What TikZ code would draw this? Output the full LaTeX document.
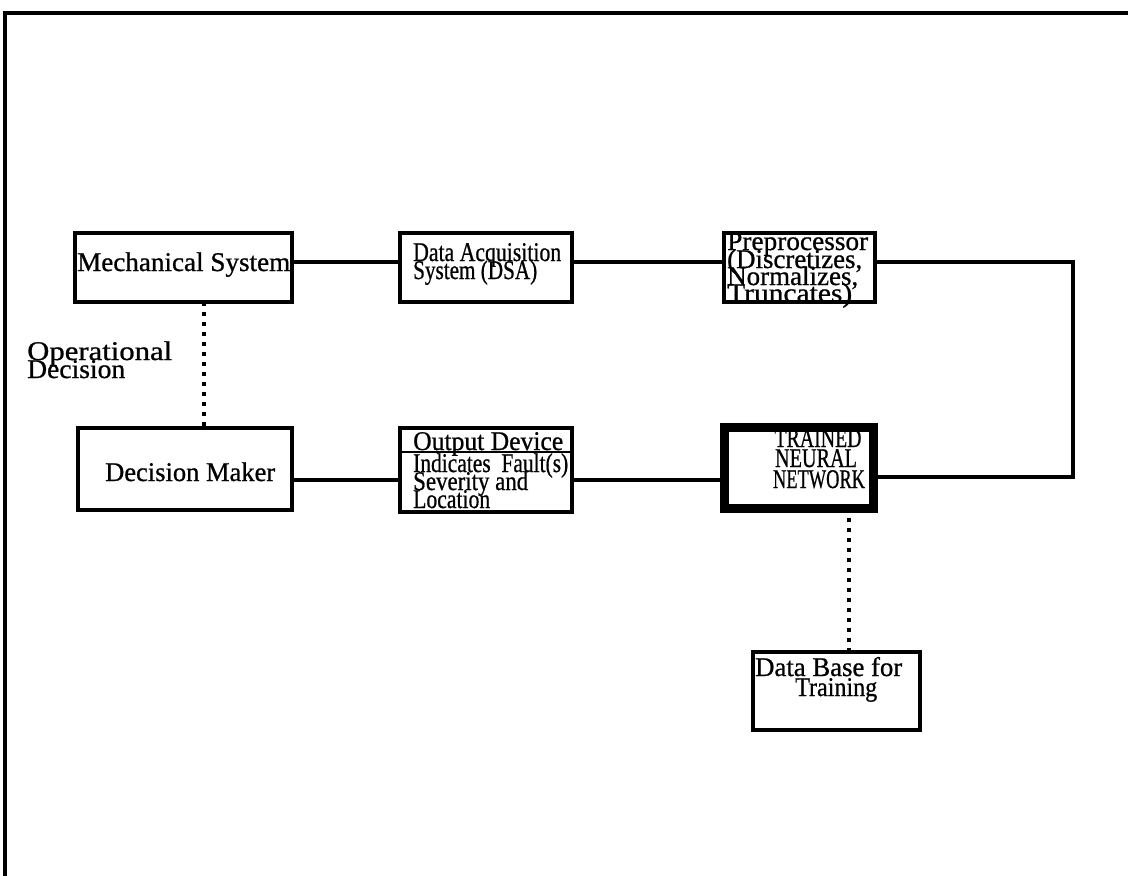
\documentclass[tikz,border=0pt]{standalone}
\usepackage{fontspec}
\usepackage{graphicx}
\setmainfont{Liberation Serif}[FakeBold=0.8]
\newcommand\fw[2]{\resizebox{#1pt}{\height}{#2}}
\begin{document}
\begin{tikzpicture}[x=1pt,y=-1pt,
  box/.style={draw, line width=3.2pt, inner sep=0pt, outer sep=0pt},
  thickbox/.style={draw, line width=9pt, inner sep=0pt, outer sep=0pt},
  conn/.style={line width=3.2pt},
  dotline/.style={line width=3.5pt, dash pattern=on 4pt off 6pt},
  txt/.style={anchor=base west, inner sep=0pt, font=\fontsize{27}{18}\selectfont},
  ctxt/.style={anchor=base, inner sep=0pt, font=\fontsize{27}{18}\selectfont}]
\useasboundingbox (0,0) rectangle (1128,876);
% frame
\coordinate (f1) at (1128,13);
\coordinate (f2) at (5,13);
\coordinate (f3) at (5,876);
\draw[line width=4pt] (f1) -- (f2) -- (f3);
% boxes
\node[box, minimum width=217pt, minimum height=69pt] (ms) at (183.5,267.5) {};
\node[box, minimum width=172pt, minimum height=69pt] (das) at (486,267.5) {};
\node[box, minimum width=151pt, minimum height=69pt] (pre) at (799.5,267.5) {};
\node[box, minimum width=214pt, minimum height=82pt] (dm) at (185,469) {};
\node[box, minimum width=172pt, minimum height=84pt] (od) at (486,470) {};
\node[thickbox, minimum width=149pt, minimum height=81pt] (nn) at (798.5,467.5) {};
\node[box, minimum width=167pt, minimum height=78pt] (db) at (836.5,691) {};
\coordinate (odl) at (400,452);
\coordinate (odr) at (572,452);
\draw[line width=2.5pt] (odl) -- (odr);
% connectors
\draw[conn] ([yshift=5.5pt]ms.east) -- ([yshift=5.5pt]das.west);
\draw[conn] ([yshift=5.5pt]das.east) -- ([yshift=5.5pt]pre.west);
\coordinate (r1) at (1073,262);
\coordinate (r2) at (1073,477);
\draw[conn] ([yshift=5.5pt]pre.east) -- (r1) -- (r2) -- (nn.east |- r2);
\draw[conn] ([yshift=-11pt]dm.east) -- ([yshift=-10pt]od.west);
\draw[conn] ([yshift=-10pt]od.east) -- (nn.west |- 0,480);
\draw[dotline] ([xshift=20.5pt]ms.south) -- ([xshift=19pt]dm.north);
\draw[dotline] ([xshift=50.5pt]nn.south) -- ([xshift=12.5pt]db.north);
% texts
\node[txt] (t1) at (77,271) {\fw{213}{Mechanical System}};
\node[txt] (t2) at (413,261) {\fw{148}{Data Acquisition}};
\node[txt] (t3) at (413,279) {\fw{124}{System (DSA)}};
\node[txt] (t4) at (727,250) {\fw{141}{Preprocessor}};
\node[txt] (t5) at (727,268) {\fw{135}{(Discretizes,}};
\node[txt] (t6) at (727,285) {\fw{131}{Normalizes,}};
\node[txt] (t7) at (727,302) {\fw{125}{Truncates)}};
\node[txt] (t8) at (27,360) {\fw{145}{Operational}};
\node[txt] (t9) at (27,378) {\fw{98}{Decision}};
\node[txt] (t10) at (105,481) {\fw{170}{Decision Maker}};
\node[txt] (t11) at (413,450) {\fw{150}{Output Device}};
\node[txt] (t12) at (413,472) {\fw{155}{Indicates\ \ Fault(s)}};
\node[txt] (t13) at (413,490) {\fw{115}{Severity and}};
\node[txt] (t14) at (413,508) {\fw{77}{Location}};
\node[ctxt] (t15) at (818,447) {\fw{87}{TRAINED}};
\node[ctxt] (t16) at (816,467) {\fw{82}{NEURAL}};
\node[ctxt] (t17) at (819,488) {\fw{92}{NETWORK}};
\node[txt] (t18) at (755,676) {\fw{147}{Data Base for}};
\node[txt] (t19) at (795,696) {\fw{82}{Training}};
\end{tikzpicture}
\end{document}
